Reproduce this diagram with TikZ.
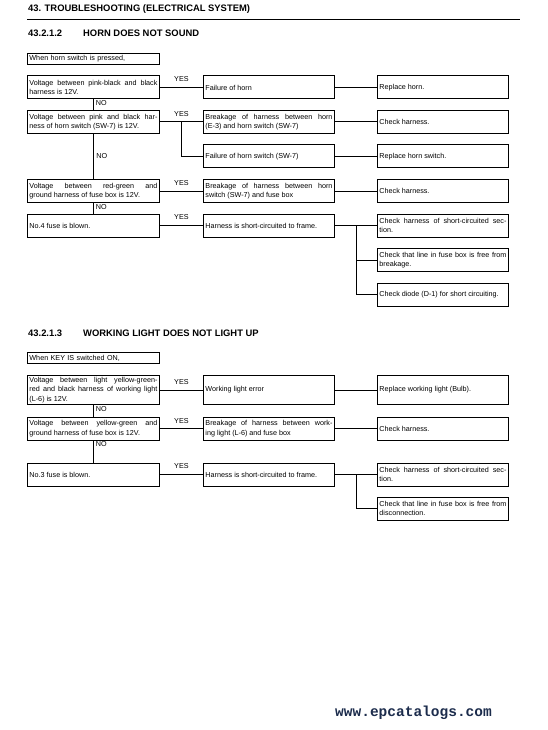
\documentclass[tikz,border=0pt]{standalone}
\usepackage{fontspec}
\setmainfont{Liberation Sans}
\newfontfamily\sitefont{Liberation Mono}
\usetikzlibrary{positioning,calc}

\definecolor{siteblue}{HTML}{1C2C4C}
\newcommand{\boxfont}{\fontsize{7.2}{9.6}\selectfont}
\newcommand{\headfont}{\bfseries\fontsize{9.4}{11}\selectfont}

\begin{document}
\begin{tikzpicture}[x=1pt, y=-1pt,
    chkbox/.style={draw, line width=0.9pt, anchor=north west, text width=127pt,
        inner xsep=2pt, inner ysep=0pt, minimum height=23pt, align=justify, font=\boxfont},
    leftbox/.style={chkbox, text width=128pt},
    startbox/.style={leftbox, minimum height=11pt, align=left},
    answer/.style={font=\boxfont, inner sep=1pt},
    link/.style={line width=0.9pt},
    head/.style={anchor=base west, inner sep=0pt, font=\headfont}]
    % Page frame
    \useasboundingbox (0,0) rectangle (547,730);

    % Page heading
    \node[head] (title) at (28,12) {43. TROUBLESHOOTING (ELECTRICAL SYSTEM)};
    \draw[line width=0.9pt] (27,19) -- (520,19);

    % ---------------- 43.2.1.2 ----------------
    \node[head] (hornnum) at (28,37) {43.2.1.2};
    \node[head] (horntitle) at (83,37) {HORN DOES NOT SOUND};

    \node[startbox] (hstart) at (27,53) {When horn switch is pressed,};

    % Checks (left), causes (middle), remedies (right)
    \node[leftbox] (hL1) at (27,75.5) {Voltage between pink-black and black\linebreak harness is 12V.};
    \node[chkbox] (hM1) at (203,75.5) {Failure of horn};
    \node[chkbox] (hR1) at (377,75.5) {Replace horn.};

    \node[leftbox] (hL2) at (27,110) {Voltage between pink and black har-\linebreak ness of horn switch (SW-7) is 12V.};
    \node[chkbox] (hM2) at (203,110) {Breakage of harness between horn\linebreak (E-3) and horn switch (SW-7)};
    \node[chkbox] (hR2) at (377,110) {Check harness.};

    \node[chkbox] (hM3) at (203,144.5) {Failure of horn switch (SW-7)};
    \node[chkbox] (hR3) at (377,144.5) {Replace horn switch.};

    \node[leftbox] (hL4) at (27,179) {Voltage between red-green and\linebreak ground harness of fuse box is 12V.};
    \node[chkbox] (hM4) at (203,179) {Breakage of harness between horn\linebreak switch (SW-7) and fuse box};
    \node[chkbox] (hR4) at (377,179) {Check harness.};

    \node[leftbox] (hL5) at (27,213.5) {No.4 fuse is blown.};
    \node[chkbox] (hM5) at (203,213.5) {Harness is short-circuited to frame.};
    \node[chkbox] (hR5) at (377,213.5) {Check harness of short-circuited sec-\linebreak tion.};
    \node[chkbox] (hR6) at (377,248) {Check that line in fuse box is free from\linebreak breakage.};
    \node[chkbox] (hR7) at (377,282.5) {Check diode (D-1) for short circuiting.};

    % YES branches
    \draw[link] (hL1.east) -- node[above=4pt, answer] {YES} (hM1.west);
    \draw[link] (hM1.east) -- (hR1.west);
    \draw[link] (hL2.east) -- node[above=4pt, answer] {YES} (hM2.west);
    \coordinate (hb2) at ($(hL2.east)!0.5!(hM2.west)$);
    \draw[link] (hb2) |- (hM3.west);
    \draw[link] (hM2.east) -- (hR2.west);
    \draw[link] (hM3.east) -- (hR3.west);
    \draw[link] (hL4.east) -- node[above=4pt, answer] {YES} (hM4.west);
    \draw[link] (hM4.east) -- (hR4.west);
    \draw[link] (hL5.east) -- node[above=4pt, answer] {YES} (hM5.west);
    \draw[link] (hM5.east) -- (hR5.west);
    \coordinate (hb5) at ($(hM5.east)!0.5!(hR5.west)$);
    \draw[link] (hb5) |- (hR6.west);
    \draw[link] (hb5) |- (hR7.west);

    % NO branches
    \draw[link] (hL1.south) -- node[pos=0, anchor=north west, answer, xshift=1pt] {NO} (hL2.north);
    \draw[link] (hL2.south) -- node[right=1.5pt, answer] {NO} (hL4.north);
    \draw[link] (hL4.south) -- node[pos=0, anchor=north west, answer, xshift=1pt] {NO} (hL5.north);

    % ---------------- 43.2.1.3 ----------------
    \node[head] (worknum) at (28,336.5) {43.2.1.3};
    \node[head] (worktitle) at (83,336.5) {WORKING LIGHT DOES NOT LIGHT UP};

    \node[startbox] (wstart) at (27,352) {When KEY IS switched ON,};

    \node[leftbox, minimum height=29pt] (wL1) at (27,375) {Voltage between light yellow-green-\linebreak red and black harness of working light\linebreak (L-6) is 12V.};
    \node[chkbox, minimum height=29pt] (wM1) at (203,375) {Working light error};
    \node[chkbox, minimum height=29pt] (wR1) at (377,375) {Replace working light (Bulb).};

    \node[leftbox, minimum height=22.5pt] (wL2) at (27,417) {Voltage between yellow-green and\linebreak ground harness of fuse box is 12V.};
    \node[chkbox, minimum height=22.5pt] (wM2) at (203,417) {Breakage of harness between work-\linebreak ing light (L-6) and fuse box};
    \node[chkbox, minimum height=22.5pt] (wR2) at (377,417) {Check harness.};

    \node[leftbox] (wL3) at (27,462.5) {No.3 fuse is blown.};
    \node[chkbox] (wM3) at (203,462.5) {Harness is short-circuited to frame.};
    \node[chkbox] (wR3) at (377,462.5) {Check harness of short-circuited sec-\linebreak tion.};
    \node[chkbox] (wR4) at (377,496.5) {Check that line in fuse box is free from\linebreak disconnection.};

    % YES branches
    \draw[link] (wL1.east) -- node[above=4pt, answer] {YES} (wM1.west);
    \draw[link] (wM1.east) -- (wR1.west);
    \draw[link] (wL2.east) -- node[above=4pt, answer] {YES} (wM2.west);
    \draw[link] (wM2.east) -- (wR2.west);
    \draw[link] (wL3.east) -- node[above=4pt, answer] {YES} (wM3.west);
    \draw[link] (wM3.east) -- (wR3.west);
    \coordinate (wb3) at ($(wM3.east)!0.5!(wR3.west)$);
    \draw[link] (wb3) |- (wR4.west);

    % NO branches
    \draw[link] (wL1.south) -- node[pos=0, anchor=north west, answer, xshift=1pt] {NO} (wL2.north);
    \draw[link] (wL2.south) -- node[pos=0, anchor=north west, answer, xshift=1pt] {NO} (wL3.north);

    % Site mark
    \node[anchor=base west, inner sep=0pt, text=siteblue,
        font=\sitefont\bfseries\fontsize{14.5}{16}\selectfont] (site) at (335,716.5) {www.epcatalogs.com};
\end{tikzpicture}
\end{document}
